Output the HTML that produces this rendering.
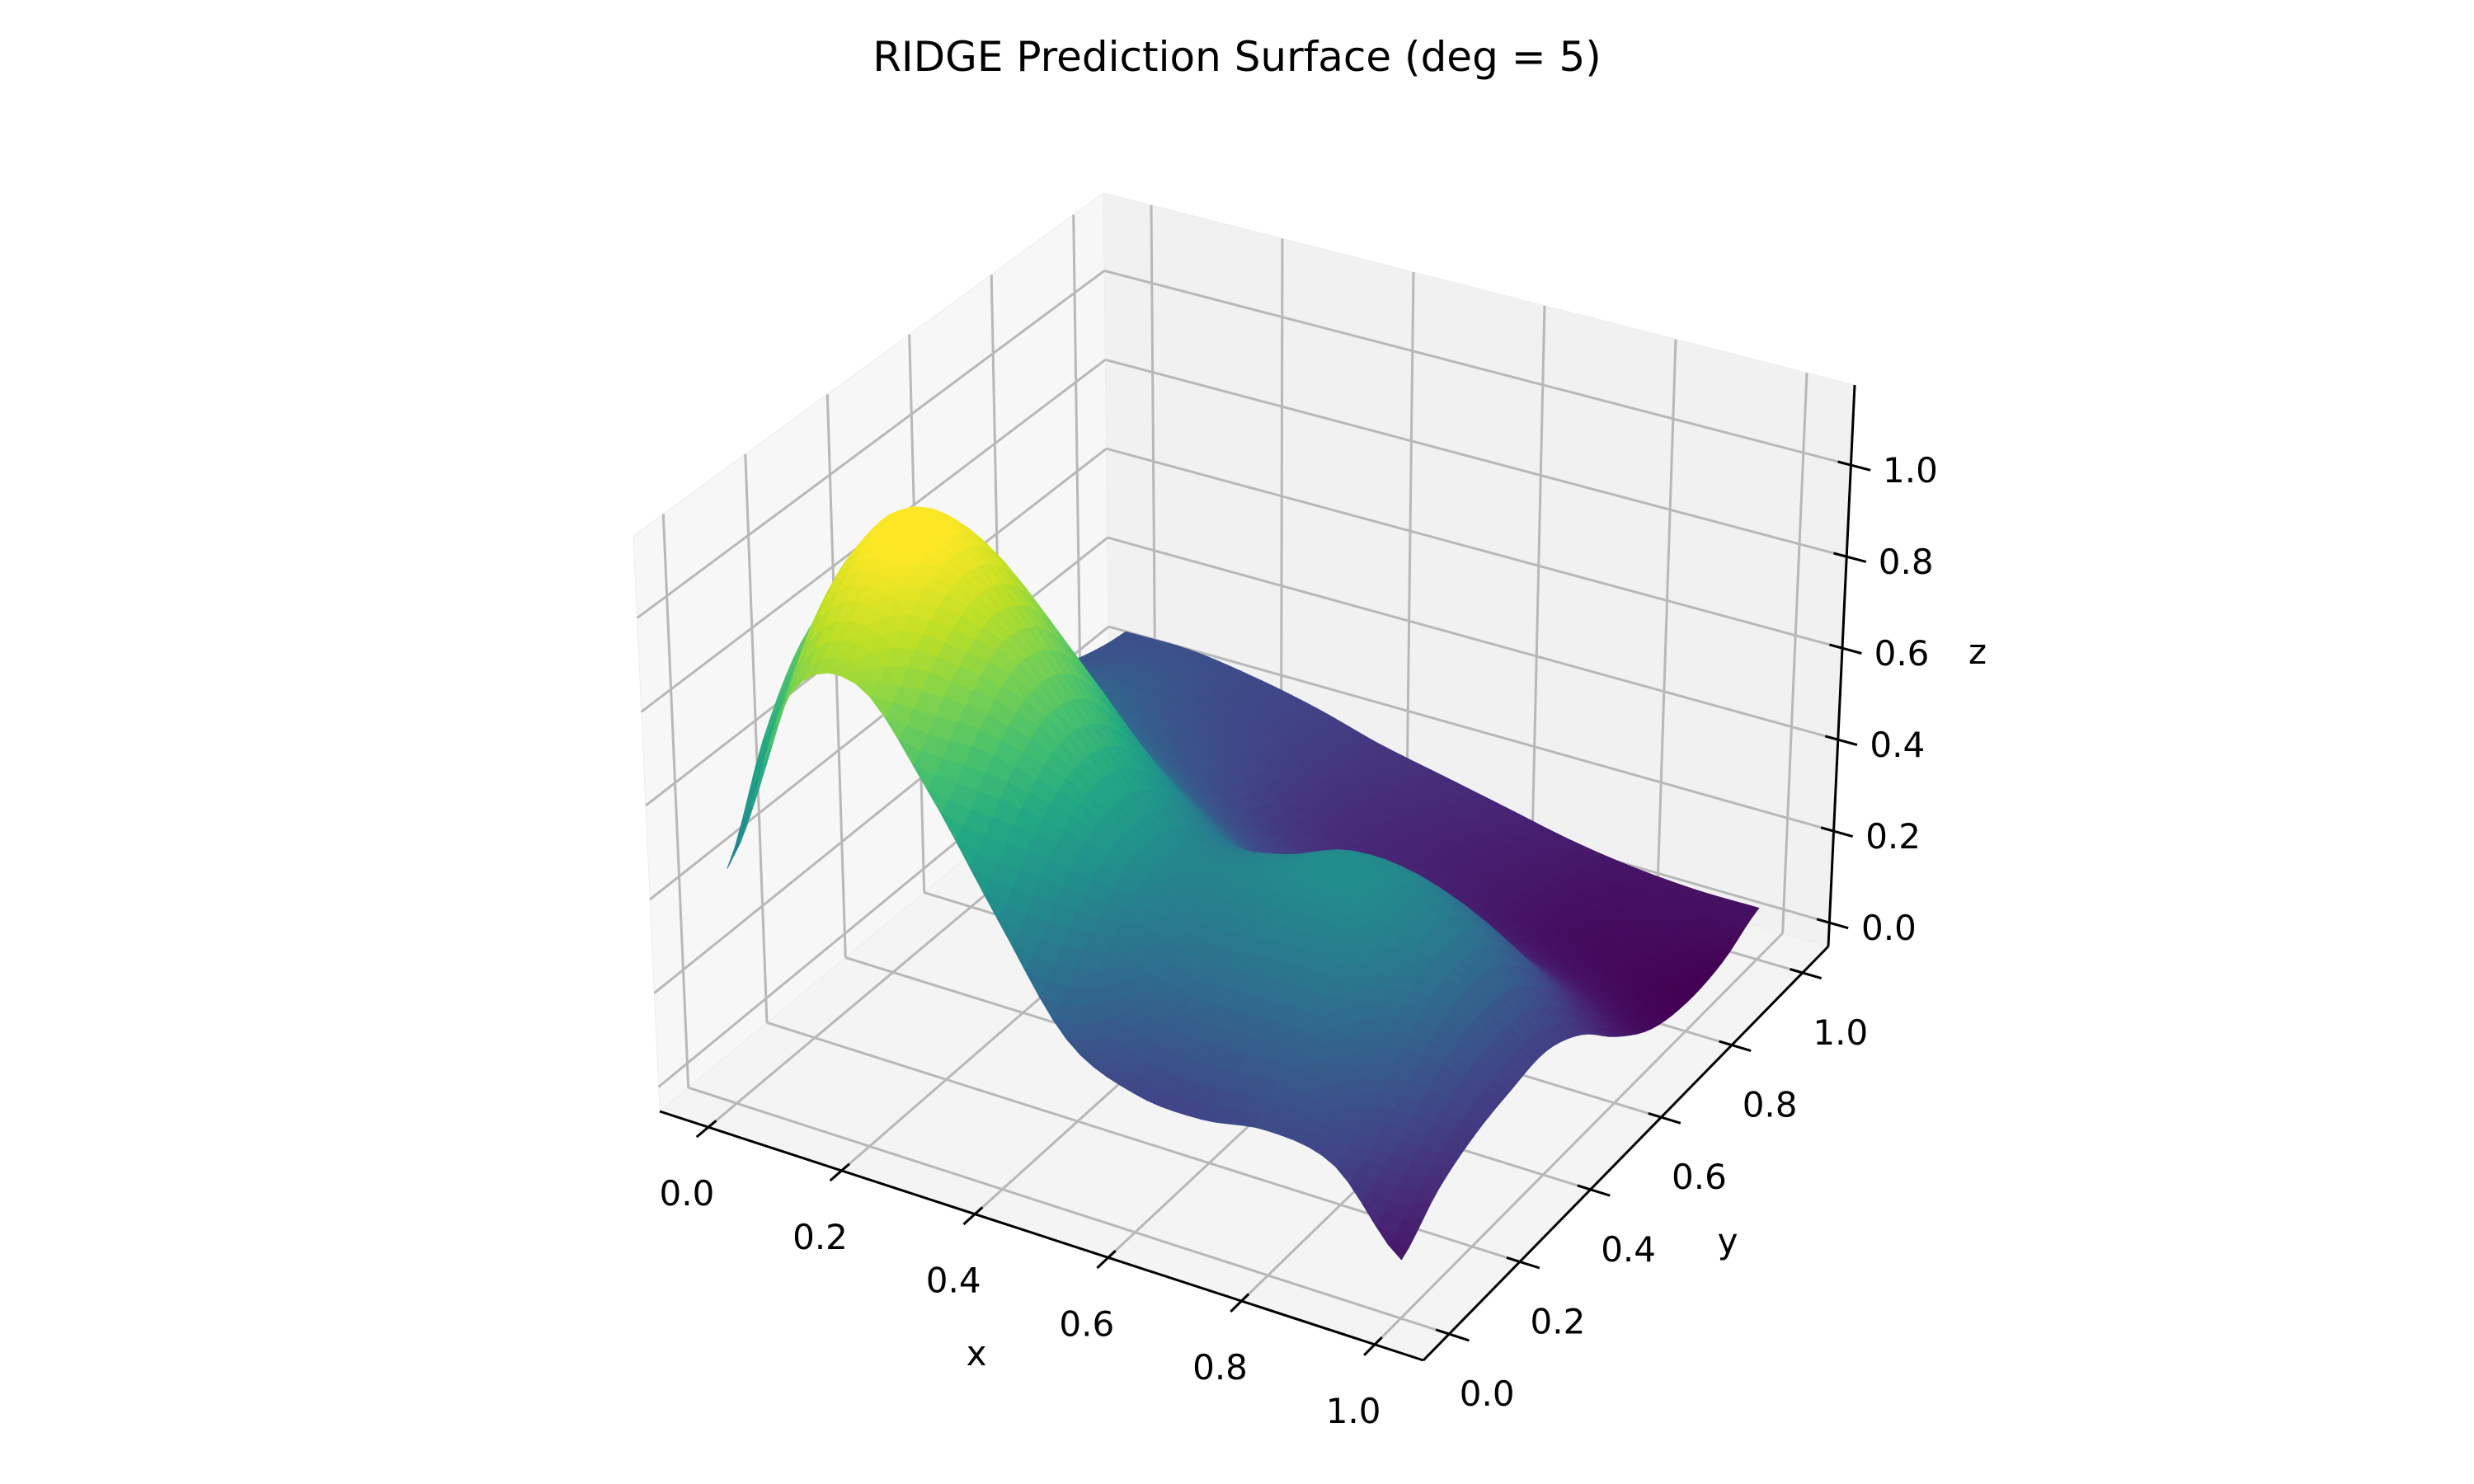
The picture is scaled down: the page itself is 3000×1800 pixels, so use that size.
<!DOCTYPE html>
<html>
<head>
<meta charset="utf-8">
<style>
  html,body{margin:0;padding:0;background:#ffffff;}
  svg{display:block;}
  text{font-family:"DejaVu Sans","Liberation Sans",sans-serif;fill:#000;}
</style>
</head>
<body>
<svg id="chart" width="3000" height="1800" viewBox="0 0 3000 1800" xmlns="http://www.w3.org/2000/svg">
  <text x="1500" y="86" font-size="50" text-anchor="middle">RIDGE Prediction Surface (deg = 5)</text>
  <g id="panes"></g>
  <g id="grid"></g>
  <g id="surface"></g>
  <g id="axes"></g>
  <text x="1184" y="1656" font-size="42" text-anchor="middle">x</text>
  <text x="2095" y="1520" font-size="42" text-anchor="middle">y</text>
  <text x="2398" y="805" font-size="42" text-anchor="middle">z</text>
</svg>
<script>
// ---- data ----
const gridXs = [0,0.1,0.2,0.3,0.4,0.5,0.6,0.7,0.8,0.9,1.0];
const gridYs = [0,0.1,0.2,0.3,0.4,0.5,0.6,0.7,0.8,0.9,1.0];
// zRows[i][j] = predicted z at x=gridXs[i], y=gridYs[j]
const zRows = [
  [0.45,0.66,0.80,0.84,0.78,0.64,0.50,0.40,0.33,0.29,0.27],
  [0.86,1.00,1.07,1.06,0.92,0.72,0.53,0.41,0.34,0.30,0.27],
  [0.93,1.04,1.09,1.05,0.88,0.66,0.47,0.35,0.29,0.26,0.25],
  [0.75,0.86,0.93,0.89,0.74,0.54,0.38,0.28,0.24,0.22,0.22],
  [0.52,0.63,0.70,0.68,0.57,0.42,0.29,0.21,0.17,0.17,0.18],
  [0.31,0.42,0.50,0.51,0.45,0.34,0.23,0.17,0.13,0.13,0.15],
  [0.24,0.35,0.45,0.50,0.46,0.36,0.24,0.16,0.11,0.10,0.12],
  [0.23,0.34,0.46,0.53,0.51,0.39,0.25,0.14,0.08,0.08,0.09],
  [0.25,0.34,0.45,0.51,0.49,0.38,0.23,0.11,0.05,0.05,0.07],
  [0.22,0.27,0.35,0.40,0.39,0.30,0.17,0.07,0.03,0.04,0.06],
  [0.07,0.14,0.18,0.20,0.21,0.17,0.09,0.03,0.01,0.02,0.06]
];
const xTicks = [0,0.2,0.4,0.6,0.8,1.0];
const yTicks = [0,0.2,0.4,0.6,0.8,1.0];
const zTicks = [0,0.2,0.4,0.6,0.8,1.0];
const xTickLabels = ["0.0","0.2","0.4","0.6","0.8","1.0"];
const yTickLabels = ["0.0","0.2","0.4","0.6","0.8","1.0"];
const zTickLabels = ["0.0","0.2","0.4","0.6","0.8","1.0"];
const XL = [-0.0729, 1.0729], YL = [-0.0729, 1.0729], ZL = [-0.052, 1.175];

// ---- projection: trilinear map of the axes box corners (screen calibration) ----
const NS = "http://www.w3.org/2000/svg";
const C = {
  '000':[800,1348], '100':[1726,1650], '110':[2217,1148], '010':[1346,896],
  '001':[768,650],  '101':[1736,930],  '111':[2249,467],  '011':[1338,234]
};
const el = 30*Math.PI/180, az = -60*Math.PI/180;
const ps = [Math.cos(el)*Math.cos(az), Math.cos(el)*Math.sin(az), Math.sin(el)];
function P(x,y,z){
  const u=(x-XL[0])/(XL[1]-XL[0]), v=(y-YL[0])/(YL[1]-YL[0]), w=(z-ZL[0])/(ZL[1]-ZL[0]);
  const out=[0,0];
  for(const key in C){
    const f=(key[0]==='1'?u:1-u)*(key[1]==='1'?v:1-v)*(key[2]==='1'?w:1-w);
    out[0]+=f*C[key][0]; out[1]+=f*C[key][1];
  }
  const depth=-(u*4*ps[0]+v*4*ps[1]+w*3*ps[2]);
  return [out[0],out[1],depth];
}

function mk(tag, parent, attrs){
  const e=document.createElementNS(NS,tag);
  for(const k in attrs) e.setAttribute(k, attrs[k]);
  parent.appendChild(e); return e;
}
function line(parent,a,b,stroke,w,name){
  const e=mk('line',parent,{x1:a[0].toFixed(1),y1:a[1].toFixed(1),x2:b[0].toFixed(1),y2:b[1].toFixed(1),stroke:stroke,'stroke-width':w});
  
  
  return e;
}
function poly(parent,pts,fill,name,stroke){
  const e=mk('polygon',parent,{points:pts.map(p=>p[0].toFixed(1)+','+p[1].toFixed(1)).join(' '),fill:fill});
  if(stroke){e.setAttribute('stroke',stroke);e.setAttribute('stroke-width','1');e.setAttribute('stroke-linejoin','round');}
  
  
  return e;
}

// ---- panes ----
const panes=document.getElementById('panes');
poly(panes,[P(XL[0],YL[0],ZL[0]),P(XL[1],YL[0],ZL[0]),P(XL[1],YL[1],ZL[0]),P(XL[0],YL[1],ZL[0])],'#f4f4f4','floor-pane','#ececec');
poly(panes,[P(XL[0],YL[0],ZL[0]),P(XL[0],YL[1],ZL[0]),P(XL[0],YL[1],ZL[1]),P(XL[0],YL[0],ZL[1])],'#f7f7f7','left-pane','#ececec');
poly(panes,[P(XL[0],YL[1],ZL[0]),P(XL[1],YL[1],ZL[0]),P(XL[1],YL[1],ZL[1]),P(XL[0],YL[1],ZL[1])],'#f1f1f1','back-pane','#ececec');

// ---- grid ----
const grid=document.getElementById('grid');
const GC='#b8b8b8', GW=3;
xTicks.forEach(t=>{
  line(grid,P(t,YL[0],ZL[0]),P(t,YL[1],ZL[0]),GC,GW,'x-grid-floor');
  line(grid,P(t,YL[1],ZL[0]),P(t,YL[1],ZL[1]),GC,GW,'x-grid-back');
});
yTicks.forEach(t=>{
  line(grid,P(XL[0],t,ZL[0]),P(XL[1],t,ZL[0]),GC,GW,'y-grid-floor');
  line(grid,P(XL[0],t,ZL[0]),P(XL[0],t,ZL[1]),GC,GW,'y-grid-left');
});
zTicks.forEach(t=>{
  line(grid,P(XL[0],YL[0],t),P(XL[0],YL[1],t),GC,GW,'z-grid-left');
  line(grid,P(XL[0],YL[1],t),P(XL[1],YL[1],t),GC,GW,'z-grid-back');
});

// ---- surface ----
const viridis=['#440154','#482475','#414487','#355f8d','#2a788e','#21918c','#22a884','#44bf70','#7ad151','#bddf26','#fde725'];
function hex(h){return [parseInt(h.substr(1,2),16),parseInt(h.substr(3,2),16),parseInt(h.substr(5,2),16)];}
function cmap(t){
  t=Math.max(0,Math.min(1,t))*10; const i=Math.min(9,Math.floor(t)); const f=t-i;
  const a=hex(viridis[i]), b=hex(viridis[i+1]);
  return 'rgb('+a.map((v,k)=>Math.round(v+(b[k]-v)*f)).join(',')+')';
}
let zmin=Infinity,zmax=-Infinity;
zRows.forEach(r=>r.forEach(v=>{zmin=Math.min(zmin,v);zmax=Math.max(zmax,v);}));
const NX=gridXs.length, NY=gridYs.length;
function Zg(i,j){i=Math.max(0,Math.min(NX-1,i));j=Math.max(0,Math.min(NY-1,j));return zRows[i][j];}
function cr(p0,p1,p2,p3,t){return 0.5*((2*p1)+(-p0+p2)*t+(2*p0-5*p1+4*p2-p3)*t*t+(-p0+3*p1-3*p2+p3)*t*t*t);}
function zAt(i,j,s,t){
  const col=[];
  for(let m=-1;m<=2;m++) col.push(cr(Zg(i+m,j-1),Zg(i+m,j),Zg(i+m,j+1),Zg(i+m,j+2),t));
  return cr(col[0],col[1],col[2],col[3],s);
}
const SUB=5, tris=[];
for(let i=0;i<NX-1;i++){
  for(let j=0;j<NY-1;j++){
    for(let a=0;a<SUB;a++){
      for(let b=0;b<SUB;b++){
        const s0=a/SUB,s1=(a+1)/SUB,t0=b/SUB,t1=(b+1)/SUB;
        const xa=gridXs[i]+(gridXs[i+1]-gridXs[i])*s0, xb=gridXs[i]+(gridXs[i+1]-gridXs[i])*s1;
        const ya=gridYs[j]+(gridYs[j+1]-gridYs[j])*t0, yb=gridYs[j]+(gridYs[j+1]-gridYs[j])*t1;
        const c00=[xa,ya,zAt(i,j,s0,t0)], c10=[xb,ya,zAt(i,j,s1,t0)], c01=[xa,yb,zAt(i,j,s0,t1)], c11=[xb,yb,zAt(i,j,s1,t1)];
        tris.push([c00,c10,c11]); tris.push([c00,c11,c01]);
      }
    }
  }
}
const surf=document.getElementById('surface');
const drawn=tris.map(tr=>{
  const pp=tr.map(c=>P(c[0],c[1],c[2]));
  const depth=(pp[0][2]+pp[1][2]+pp[2][2])/3;
  const zav=(tr[0][2]+tr[1][2]+tr[2][2])/3;
  return {pp,depth,zav};
});
drawn.sort((a,b)=>b.depth-a.depth);
drawn.forEach(d=>{
  const col=cmap((d.zav-zmin)/(zmax-zmin));
  const e=poly(surf,d.pp,col,'surface-facet',col);
  
});

// ---- axes, ticks, labels ----
const axes=document.getElementById('axes');
line(axes,P(XL[0],YL[0],ZL[0]),P(XL[1],YL[0],ZL[0]),'#000',3,'x-axis-line');
line(axes,P(XL[1],YL[0],ZL[0]),P(XL[1],YL[1],ZL[0]),'#000',3,'y-axis-line');
line(axes,P(XL[1],YL[1],ZL[0]),P(XL[1],YL[1],ZL[1]),'#000',3,'z-axis-line');
function label(parent,pt,dx,dy,txt,name){
  const e=mk('text',parent,{x:(pt[0]+dx).toFixed(1),y:(pt[1]+dy+15).toFixed(1),'font-size':'42','text-anchor':'middle'});
  e.textContent=txt;
  
  
}
xTicks.forEach((t,k)=>{
  line(axes,P(t,YL[0]+0.02,ZL[0]),P(t,YL[0]-0.03,ZL[0]),'#000',3,'x-tick');
  label(axes,P(t,YL[0],ZL[0]),-26,80,xTickLabels[k],'x-tick-label');
});
yTicks.forEach((t,k)=>{
  line(axes,P(XL[1]-0.02,t,ZL[0]),P(XL[1]+0.03,t,ZL[0]),'#000',3,'y-tick');
  label(axes,P(XL[1],t,ZL[0]),46,72,yTickLabels[k],'y-tick-label');
});
zTicks.forEach((t,k)=>{
  line(axes,P(XL[1]-0.02,YL[1],t),P(XL[1]+0.03,YL[1],t),'#000',3,'z-tick');
  label(axes,P(XL[1],YL[1],t),72,6,zTickLabels[k],'z-tick-label');
});
</script>
</body>
</html>
